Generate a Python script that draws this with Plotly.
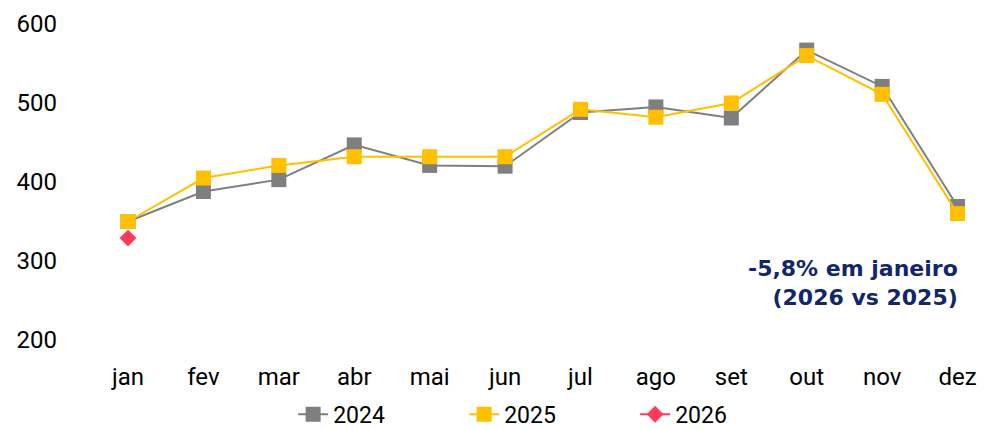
import plotly.graph_objects as go

months = ["jan", "fev", "mar", "abr", "mai", "jun", "jul", "ago", "set", "out", "nov", "dez"]
v2024 = [350, 388, 403, 447, 421, 420, 488, 495, 481, 567, 521, 369]
v2025 = [350, 405, 421, 432, 432, 432, 492, 482, 500, 560, 511, 360]
months_2026 = ["jan"]
v2026 = [329]
y_ticks = [200, 300, 400, 500, 600]
note_lines = ["-5,8% em janeiro", "(2026 vs 2025)"]

fig = go.Figure()
fig.add_trace(go.Scatter(x=months, y=v2024, name="2024", mode="lines+markers",
                         line=dict(color="#7F7F7F", width=2),
                         marker=dict(symbol="square", size=15, color="#7F7F7F")))
fig.add_trace(go.Scatter(x=months, y=v2025, name="2025", mode="lines+markers",
                         line=dict(color="#FFC000", width=2),
                         marker=dict(symbol="square", size=15, color="#FFC000")))
fig.add_trace(go.Scatter(x=months_2026, y=v2026, name="2026", mode="lines+markers",
                         line=dict(color="#FF3B5C", width=2),
                         marker=dict(symbol="diamond", size=13, color="#FF3B5C")))

fig.add_annotation(text="<b>" + "<br>".join(note_lines) + "</b>",
                   xref="paper", yref="paper", x=0.9635, y=0.18,
                   xanchor="right", yanchor="middle", align="right", showarrow=False,
                   font=dict(family="DejaVu Sans", size=22, color="#13266B"))

fig.update_layout(
    width=985, height=429,
    margin=dict(l=82, r=0, t=16, b=97),
    paper_bgcolor="white", plot_bgcolor="white",
    font=dict(family="Roboto", size=24, color="#000000"),
    showlegend=True,
    legend=dict(orientation="h", x=0.509, xanchor="center",
                yref="container", y=0.053, yanchor="middle",
                font=dict(family="Roboto", size=23), entrywidth=126, traceorder="normal"),
    xaxis=dict(type="category", categoryorder="array", categoryarray=months,
               range=[-0.504, 11.47], showgrid=False, zeroline=False, showline=False,
               ticks="", ticklabelstandoff=20, automargin=False),
    yaxis=dict(range=[200, 600], tickvals=y_ticks, showgrid=False, zeroline=False,
               showline=False, ticks="", ticklabelstandoff=32, automargin=False),
)

fig.write_html("out.html")
